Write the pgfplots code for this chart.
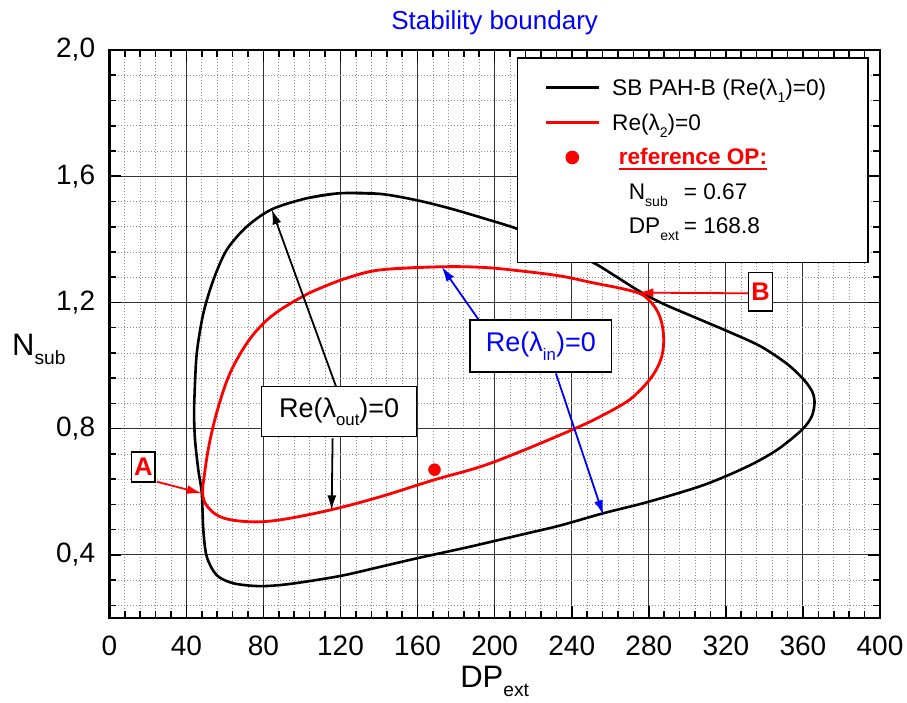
\documentclass[border=0pt]{standalone}
\usepackage{fontspec}
\setmainfont{Liberation Sans}
\usepackage{graphicx}
\usepackage{pgfplots}
\pgfplotsset{compat=1.18}
\usetikzlibrary{arrows.meta}

% lowered, reduced subscript in the Origin manner
\newcommand{\lo}[1]{\raisebox{-0.32em}{\scalebox{0.62}{#1}}}
% thick underline
\newcommand{\ul}[1]{\setbox0\hbox{#1}\rlap{\rule[-5pt]{\wd0}{1.8pt}}\box0}

\definecolor{obred}{RGB}{255,0,0}
\definecolor{obblue}{RGB}{0,0,255}

\begin{document}
\begin{tikzpicture}
\useasboundingbox (-109.3pt,-84pt) rectangle (797.7pt,618pt);
\begin{axis}[
  scale only axis, width=770.7pt, height=568pt,
  xmin=0, xmax=400, ymin=0.2, ymax=2.0,
  xtick={0,40,...,400},
  ytick={0.4,0.8,1.2,1.6,2.0},
  minor xtick={8,16,24,32,48,56,64,72,88,96,104,112,128,136,144,152,168,176,184,192,208,216,224,232,248,256,264,272,288,296,304,312,328,336,344,352,368,376,384,392},
  minor ytick={0.24,0.32,0.48,0.56,0.64,0.72,0.88,0.96,1.04,1.12,1.28,1.36,1.44,1.52,1.68,1.76,1.84,1.92},
  grid=both,
  major grid style={line width=0.9pt, black!80},
  minor grid style={line width=0.8pt, black!45, dash pattern=on 1pt off 2pt},
  tick align=inside,
  major tick length=12pt, minor tick length=7pt,
  every tick/.style={black, line width=1.6pt},
  axis line style={line width=2.6pt},
  /pgf/number format/assume math mode=true,
  tick label style={font=\fontsize{28}{32}\selectfont},
  xticklabel style={anchor=base, yshift=-37pt, inner sep=0pt},
  yticklabel style={anchor=east, xshift=-14pt, inner sep=0pt,
    /pgf/number format/.cd, fixed, fixed zerofill, precision=1, use comma, /tikz/.cd},
  xlabel={DP\lo{ext}},
  xlabel style={at={(axis description cs:0.5,-0.1215)}, anchor=base, inner sep=0pt, font=\fontsize{31}{34}\selectfont},
  ylabel={N\lo{sub}},
  ylabel style={at={(axis description cs:-0.1262,0.463)}, anchor=base west, rotate=-90, inner sep=0pt, font=\fontsize{31}{34}\selectfont},
  title={Stability boundary},
  title style={at={(axis description cs:0.5,1)}, anchor=base, yshift=14pt, inner sep=0pt, text=obblue, font=\fontsize{26}{30}\selectfont},
  legend cell align=left,
  legend image code/.code={\draw[mark repeat=2,mark phase=2,#1] plot coordinates {(0pt,0pt) (26.5pt,0pt) (53pt,0pt)};},
  legend style={at={(axis description cs:0.9857,0.9877)}, anchor=north east,
    draw=black, line width=1.6pt, fill=white,
    inner xsep=27pt, inner ysep=21pt, row sep=17pt, column sep=12pt,
    font=\fontsize{22.6}{26}\selectfont, nodes={inner sep=0pt}},
]

% stability boundary SB PAH-B
\addplot[black, line width=2.6pt, smooth, tension=0.5] coordinates {
(102.4,1.530) (119.7,1.546) (140.5,1.544) (159.5,1.524) (176.8,1.498)
(194.1,1.467) (212.3,1.432) (231,1.383) (251.2,1.326) (262,1.286)
(275,1.236) (287,1.197) (303,1.155) (320,1.111) (337.7,1.062)
(351.6,1.006) (360.5,0.955) (365.0,0.915) (366.0,0.880) (364.5,0.838)
(359.4,0.796) (346.4,0.732) (330.8,0.679) (308.3,0.621) (279.7,0.568)
(256.4,0.532) (233.9,0.493) (213.1,0.463) (186.5,0.425) (159.5,0.389)
(140.5,0.362) (119.7,0.333) (93.8,0.308) (78.2,0.301) (64.4,0.310)
(55.7,0.336) (50.6,0.394) (48.8,0.479) (48.0,0.595) (46.2,0.669)
(44.5,0.764) (44.0,0.84) (44.2,0.901) (45.4,1.039) (48.8,1.165)
(54.0,1.271) (60.9,1.366) (71.3,1.440) (84.3,1.495) (102.4,1.530)
(119.7,1.546) (140.5,1.544)
};
\addlegendentry{\makebox[229pt][l]{SB PAH-B (Re(λ\lo{1})=0)}}

% Re(lambda_2)=0
\addplot[obred, line width=2.8pt, smooth, tension=0.6] coordinates {
(123.2,1.277) (140.5,1.303) (171.6,1.313) (194.1,1.311) (213.2,1.300)
(233.9,1.284) (251.2,1.262) (266,1.244) (275.5,1.228) (280.5,1.205)
(284.2,1.175) (286.5,1.140) (287.6,1.100) (287.6,1.060) (286.4,1.022)
(284.0,0.988) (280.5,0.956) (275.5,0.922) (268.5,0.885) (254.7,0.838)
(240.8,0.798) (213.2,0.727) (192.4,0.679) (168.2,0.637) (140.5,0.584)
(114.5,0.542) (88.6,0.511) (73.0,0.505) (59.2,0.517) (51.8,0.547)
(48.5,0.590) (49.7,0.669) (52.3,0.764) (56.6,0.869) (62.6,0.975)
(71.3,1.070) (79.9,1.133) (88.6,1.176) (100.7,1.220) (109.4,1.245)
(123.2,1.277) (140.5,1.303) (171.6,1.313)
};
\addlegendentry{Re(λ\lo{2})=0}

% reference operating point
\addplot[only marks, mark=*, mark size=6pt, obred, mark options={fill=obred, draw=obred}] coordinates {(168.8,0.67)};
\addlegendentry{\hspace{6.7pt}\textcolor{obred}{\ul{\textbf{reference OP:}}}}
\addlegendimage{empty legend}
\addlegendentry{\hspace{16.7pt}\makebox[55pt][l]{N\lo{sub}}= 0.67}
% last row: blank image cell that reserves the bottom margin of the box
\addlegendimage{legend image code/.code={\path[draw=none, fill=none] (0pt,-15pt) -- (0pt,0pt);}}
\addlegendentry{\hspace{16.7pt}\makebox[55pt][l]{DP\lo{ext}}= 168.8}

% annotations
\tikzset{ann/.style={line width=1.8pt, -{Latex[length=15pt,width=9pt]}},
         box/.style={draw=black, line width=1.4pt, fill=white, inner sep=0pt}}
\draw[ann, black] (axis cs:118.0,0.928) -- (axis cs:84.3,1.495);
\draw[ann, black] (axis cs:115.9,0.769) -- (axis cs:115.4,0.541);
\node[box, minimum width=155pt, minimum height=50pt, font=\fontsize{27}{30}\selectfont]
  at (axis cs:119.3,0.854) {Re(λ\lo{out})=0};

\draw[ann, obblue] (axis cs:192.4,1.139) -- (axis cs:172.5,1.313);
\draw[ann, obblue] (axis cs:231.8,0.975) -- (axis cs:256.4,0.526);
\node[box, minimum width=141.7pt, minimum height=51.7pt, text=obblue, font=\fontsize{27}{30}\selectfont]
  at (axis cs:224.0,1.062) {Re(λ\lo{in})=0};

\draw[ann, obred] (axis cs:24.6,0.632) -- (axis cs:48.0,0.595);
\node[box, minimum width=23.3pt, minimum height=30pt, text=obred, font=\fontsize{25.5}{28}\selectfont\bfseries]
  at (axis cs:17.6,0.679) {A};
\draw[ann, obred] (axis cs:331.6,1.229) -- (axis cs:274.6,1.231);
\node[box, minimum width=24.4pt, minimum height=38.7pt, text=obred, font=\fontsize{25.5}{28}\selectfont\bfseries]
  at (axis cs:338.0,1.234) {B};

\end{axis}
\end{tikzpicture}
\end{document}
